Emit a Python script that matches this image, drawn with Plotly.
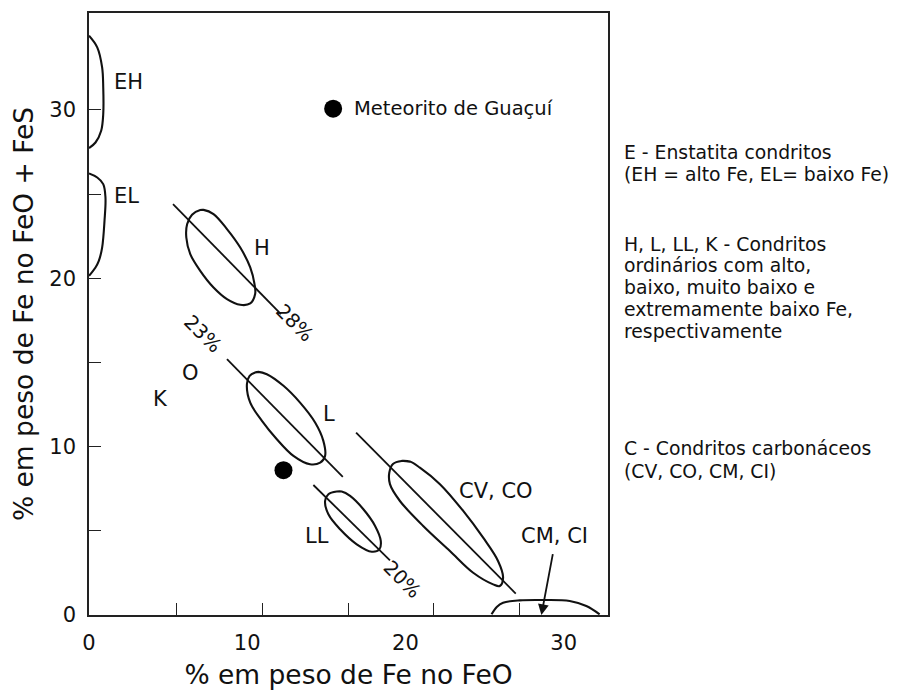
import plotly.graph_objects as go

FONT = "DejaVu Sans"
INK = "#111111"

# ---------------- axes ----------------
X_RANGE = [0, 32.8]
Y_RANGE = [0, 35.75]
X_TICKS = [0, 10, 20, 30]
X_MINOR = [5.55, 10.97, 16.4, 21.8, 27.2]
Y_TICKS = [0, 10, 20, 30]
Y_MINOR = [5, 15, 25]
X_TITLE = "% em peso de Fe no FeO"
Y_TITLE = "% em peso de Fe no FeO + FeS"

# ---------------- fields (x = % Fe in FeO, y = % Fe in FeO + FeS) ----------------
EH_X = [0.0, 0.52, 0.83, 0.90, 0.90, 0.77, 0.41, 0.0]
EH_Y = [34.40, 33.71, 32.52, 31.33, 29.75, 28.76, 28.06, 27.73]

EL_X = [0.0, 0.52, 0.90, 1.04, 0.98, 0.83, 0.62, 0.41, 0.0]
EL_Y = [26.22, 25.98, 25.59, 24.80, 23.41, 21.82, 21.03, 20.64, 20.14]

H_X = [7.03, 7.24, 7.87, 8.72, 9.56, 10.19, 10.46, 10.50, 10.19, 9.56, 8.72, 7.87, 7.03, 6.40, 6.15, 6.20, 6.51]
H_Y = [24.05, 24.06, 23.81, 22.92, 21.82, 20.64, 19.65, 19.06, 18.50, 18.42, 18.76, 19.45, 20.44, 21.43, 22.42, 23.21, 23.77]

L_X = [10.50, 10.71, 11.24, 12.29, 13.34, 14.29, 14.81, 14.92, 14.61, 13.97, 12.92, 11.87, 10.93, 10.19, 9.98, 10.15]
L_Y = [14.40, 14.44, 14.30, 13.61, 12.61, 11.43, 10.34, 9.45, 9.05, 8.95, 9.45, 10.44, 11.53, 12.61, 13.71, 14.20]

LL_X = [15.66, 15.97, 16.50, 17.34, 18.08, 18.44, 18.35, 17.87, 16.92, 15.87, 15.13, 14.92, 15.13]
LL_Y = [7.33, 7.33, 7.07, 6.28, 5.29, 4.40, 3.90, 3.76, 4.20, 5.09, 5.98, 6.77, 7.17]

CV_X = [19.76, 20.28, 20.91, 22.18, 23.65, 24.91, 25.85, 26.17, 25.96, 25.54, 24.28, 22.81, 21.12, 19.65, 19.02, 18.98, 19.21]
CV_Y = [9.15, 9.11, 8.75, 7.77, 6.18, 4.59, 3.21, 2.22, 1.72, 1.82, 2.51, 3.80, 5.29, 6.77, 7.77, 8.46, 8.97]

CM_X = [25.44, 25.77, 26.17, 27.22, 28.80, 30.38, 31.43, 32.27]
CM_Y = [0.04, 0.48, 0.73, 0.87, 0.89, 0.83, 0.53, 0.04]

# ---------------- iron-ratio trend lines ----------------
H_LINE_X = [5.31, 12.13]
H_LINE_Y = [24.40, 17.87]
L_LINE_X = [8.72, 16.04]
L_LINE_Y = [15.19, 8.20]
LL_LINE_X = [14.18, 19.02]
LL_LINE_Y = [7.72, 3.25]
CV_LINE_X = [16.88, 26.97]
CV_LINE_Y = [10.83, 1.27]

# ---------------- meteorite ----------------
METEORITE_X = [15.43, 12.29]
METEORITE_Y = [30.07, 8.60]
METEORITE_NAME = "Meteorito de Guaçuí"

# ---------------- labels ----------------
LABEL_TEXT = ["EH", "EL", "H", "L", "LL", "O", "K", "CV, CO", "CM, CI"]
LABEL_X = [2.51, 2.37, 10.93, 15.19, 14.40, 6.42, 4.53, 25.75, 29.43]
LABEL_Y = [31.63, 24.90, 21.82, 11.93, 4.69, 14.38, 12.83, 7.37, 4.69]

PCT_TEXT = ["28%", "23%", "20%"]
PCT_X = [12.96, 7.16, 19.78]
PCT_Y = [17.35, 16.70, 2.08]

ARROW_TAIL = [29.33, 3.70]
ARROW_TIP = [28.59, 0.0]

LEGEND_LINES = [
    "E - Enstatita condritos",
    "(EH = alto Fe, EL= baixo Fe)",
    "H, L, LL, K - Condritos",
    "ordinários com alto,",
    "baixo, muito baixo e",
    "extremamente baixo Fe,",
    "respectivamente",
    "C - Condritos carbonáceos",
    "(CV, CO, CM, CI)",
]
LEGEND_LINE_Y = [0.7679, 0.7322, 0.6160, 0.5803, 0.5446, 0.5081, 0.4715, 0.2764, 0.2391]


def closed(xs, ys):
    return list(xs) + list(xs[:2]), list(ys) + list(ys[:2])


fig = go.Figure()

for xs, ys in [(H_X, H_Y), (L_X, L_Y), (LL_X, LL_Y), (CV_X, CV_Y)]:
    cx, cy = closed(xs, ys)
    fig.add_trace(go.Scatter(x=cx, y=cy, mode="lines",
                             line=dict(color=INK, width=2.1, shape="spline", smoothing=1),
                             hoverinfo="skip"))

for xs, ys in [(EH_X, EH_Y), (EL_X, EL_Y), (CM_X, CM_Y)]:
    fig.add_trace(go.Scatter(x=xs, y=ys, mode="lines",
                             line=dict(color=INK, width=2.1, shape="spline", smoothing=1),
                             hoverinfo="skip"))

for xs, ys in [(H_LINE_X, H_LINE_Y), (L_LINE_X, L_LINE_Y),
               (LL_LINE_X, LL_LINE_Y), (CV_LINE_X, CV_LINE_Y)]:
    fig.add_trace(go.Scatter(x=xs, y=ys, mode="lines",
                             line=dict(color=INK, width=1.8), hoverinfo="skip"))

fig.add_trace(go.Scatter(x=METEORITE_X, y=METEORITE_Y, mode="markers",
                         marker=dict(color="black", size=18), hoverinfo="skip"))

annotations = []
for t, x, y in zip(LABEL_TEXT, LABEL_X, LABEL_Y):
    annotations.append(dict(x=x, y=y, xref="x", yref="y", text=t, showarrow=False,
                            font=dict(family=FONT, size=21, color=INK)))
for t, x, y in zip(PCT_TEXT, PCT_X, PCT_Y):
    annotations.append(dict(x=x, y=y, xref="x", yref="y", text=t, showarrow=False,
                            textangle=45, font=dict(family=FONT, size=19.5, color=INK)))
annotations.append(dict(x=METEORITE_X[0], y=METEORITE_Y[0], xref="x", yref="y",
                        text=METEORITE_NAME, showarrow=False, xanchor="left", xshift=19,
                        font=dict(family=FONT, size=19.5, color=INK)))
annotations.append(dict(x=ARROW_TIP[0], y=ARROW_TIP[1], ax=ARROW_TAIL[0], ay=ARROW_TAIL[1],
                        xref="x", yref="y", axref="x", ayref="y", text="",
                        showarrow=True, arrowhead=2, arrowsize=1.2, arrowwidth=1.8,
                        arrowcolor=INK))
for t, y in zip(LEGEND_LINES, LEGEND_LINE_Y):
    annotations.append(dict(x=1.03, y=y, xref="paper", yref="paper", text=t,
                            showarrow=False, xanchor="left", yanchor="middle", align="left",
                            borderpad=0, borderwidth=0,
                            font=dict(family=FONT, size=18.8, color=INK)))

# small outward ticks at the origin, as in the original drawing
shapes = [
    dict(type="line", xref="x", yref="y", x0=0, x1=0, ysizemode="pixel", yanchor=0,
         y0=0, y1=-11, line=dict(color="#222", width=1.3)),
    dict(type="line", xref="x", yref="y", y0=0, y1=0, xsizemode="pixel", xanchor=0,
         x0=0, x1=-11, line=dict(color="#222", width=1.3)),
]

# the page body has an 8 px default margin; the figure is sized to fit the window
fig.update_layout(
    template="none",
    width=889, height=682,
    margin=dict(l=80.5, r=288.7, t=4.7, b=75, autoexpand=False),
    plot_bgcolor="white", paper_bgcolor="white",
    showlegend=False,
    font=dict(family=FONT, color=INK),
    annotations=annotations,
    shapes=shapes,
    xaxis=dict(range=X_RANGE, tickmode="array", tickvals=X_TICKS, ticks="",
               showline=True, linecolor="#222", linewidth=1.5, mirror=True,
               showgrid=False, zeroline=False, automargin=False,
               tickfont=dict(family=FONT, size=21, color=INK), ticklabelstandoff=8,
               title=dict(text=X_TITLE, font=dict(family=FONT, size=26.5, color=INK), standoff=13),
               minor=dict(tickmode="array", tickvals=X_MINOR, ticks="inside", ticklen=12,
                          tickwidth=1.3, tickcolor="#222", showgrid=False)),
    yaxis=dict(range=Y_RANGE, tickmode="array", tickvals=Y_TICKS, ticks="inside", ticklen=12,
               tickwidth=1.3, tickcolor="#222",
               showline=True, linecolor="#222", linewidth=1.5, mirror=True,
               showgrid=False, zeroline=False, automargin=False,
               tickfont=dict(family=FONT, size=21, color=INK), ticklabelstandoff=7,
               title=dict(text=Y_TITLE, font=dict(family=FONT, size=26.5, color=INK), standoff=12),
               minor=dict(tickmode="array", tickvals=Y_MINOR, ticks="inside", ticklen=12,
                          tickwidth=1.3, tickcolor="#222", showgrid=False)),
)

fig.write_html("out.html")
